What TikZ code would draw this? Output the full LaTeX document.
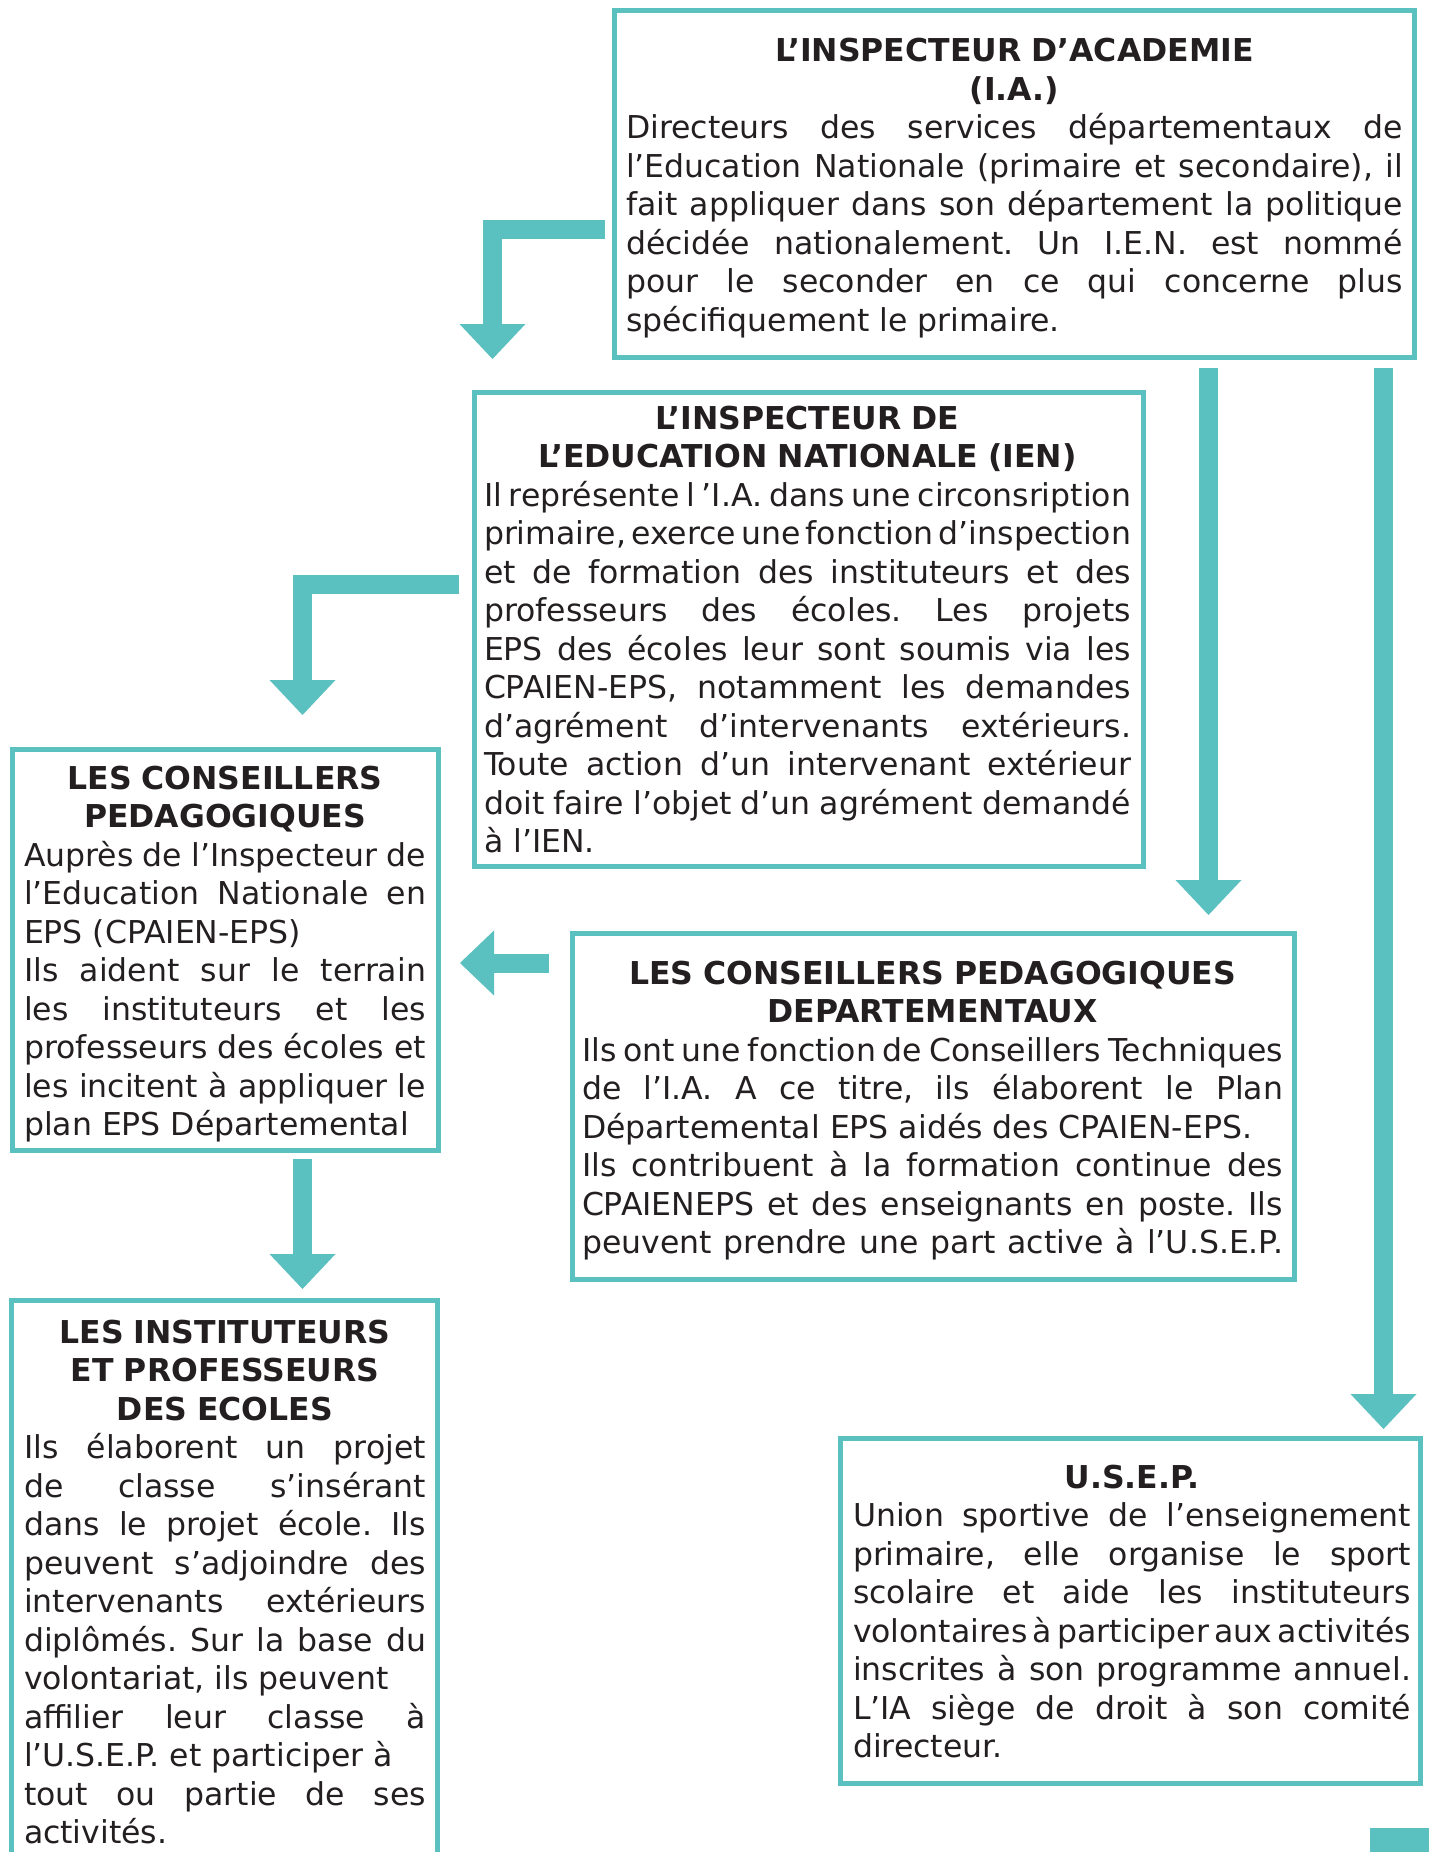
\documentclass[tikz,border=0pt]{standalone}
\usepackage{fontspec}
\setmainfont{DejaVu Sans}
\usetikzlibrary{calc}
\definecolor{tealc}{RGB}{91,193,192}
\definecolor{txtc}{HTML}{231F20}
\newcommand\JL[1]{\hbox to\hsize{\strut#1}}
\newcommand\LL[1]{\hbox to\hsize{\strut#1\hfil}}
\newcommand\CL[1]{\hbox to\hsize{\strut\hfil\bfseries#1\hfil}}
\newcommand\txtbox[2]{\vbox{\hsize=#1\fontsize{31.5}{38.5}\selectfont\frenchspacing\spaceskip=.318em plus 3em minus .25em\relax#2}}
\tikzset{
  box/.style={draw=tealc, line width=5pt, rectangle, inner sep=0pt, outer sep=0pt, anchor=north west},
  txt/.style={inner sep=0pt, outer sep=0pt, anchor=north west, text=txtc},
  bar/.style={draw=tealc, line width=19pt, line join=miter, line cap=butt},
  dhead/.pic={\fill[tealc] (0,0) -- (-33,-35) -- (33,-35) -- cycle;},
  lhead/.pic={\fill[tealc] (0,0) -- (34,-32.5) -- (34,32.5) -- cycle;}
}
\begin{document}
\begin{tikzpicture}[x=1pt,y=-1pt]
\useasboundingbox (0,0) rectangle (1429,1852);
\clip (0,0) rectangle (1429,1852);
\fill[white] (0,0) rectangle (1429,1852);
% boxes
\node[box, minimum width=799.5pt, minimum height=346pt] (ia) at (614.5,11) {};
\node[box, minimum width=669pt, minimum height=474pt] (ien) at (474,392) {};
\node[box, minimum width=426pt, minimum height=401pt] (cp) at (12,749) {};
\node[box, minimum width=722pt, minimum height=346pt] (cpd) at (572,933) {};
\node[box, minimum width=426pt, minimum height=600pt] (inst) at (11.5,1300) {};
\node[box, minimum width=580pt, minimum height=345pt] (usep) at (840,1438) {};
\node[fill=tealc, inner sep=0pt, minimum width=59pt, minimum height=24pt, anchor=north west] (corner) at (1370,1828) {};
% texts
\node[txt] (iat) at (626,34.55) {\txtbox{777pt}{%
\CL{L’INSPECTEUR D’ACADEMIE}
\CL{(I.A.)}
\JL{Directeurs des services départementaux de}
\JL{l’Education Nationale (primaire et secondaire), il}
\JL{fait appliquer dans son département la politique}
\JL{décidée nationalement. Un I.E.N. est nommé}
\JL{pour le seconder en ce qui concerne plus}
\LL{spécifiquement le primaire.}}};
\node[txt] (ient) at (484,402.05) {\txtbox{647pt}{%
\CL{L’INSPECTEUR DE}
\CL{L’EDUCATION NATIONALE (IEN)}
\JL{Il représente l ’I.A. dans une circonsription}
\JL{primaire, exerce une fonction d’inspection}
\JL{et de formation des instituteurs et des}
\JL{professeurs des écoles. Les projets}
\JL{EPS des écoles leur sont soumis via les}
\JL{CPAIEN-EPS, notamment les demandes}
\JL{d’agrément d’intervenants extérieurs.}
\JL{Toute action d’un intervenant extérieur}
\JL{doit faire l’objet d’un agrément demandé}
\LL{à l’IEN.}}};
\node[txt] (cpt) at (24,762.05) {\txtbox{402pt}{%
\CL{LES CONSEILLERS}
\CL{PEDAGOGIQUES}
\JL{Auprès de l’Inspecteur de}
\JL{l’Education Nationale en}
\LL{EPS (CPAIEN-EPS)}
\JL{Ils aident sur le terrain}
\JL{les instituteurs et les}
\JL{professeurs des écoles et}
\JL{les incitent à appliquer le}
\LL{plan EPS Départemental}}};
\node[txt] (cpdt) at (582,957.05) {\txtbox{701pt}{%
\CL{LES CONSEILLERS PEDAGOGIQUES}
\CL{DEPARTEMENTAUX}
\JL{Ils ont une fonction de Conseillers Techniques}
\JL{de l’I.A. A ce titre, ils élaborent le Plan}
\LL{Départemental EPS aidés des CPAIEN-EPS.}
\JL{Ils contribuent à la formation continue des}
\JL{CPAIENEPS et des enseignants en poste. Ils}
\JL{peuvent prendre une part active à l’U.S.E.P.}}};
\node[txt] (instt) at (24,1316.05) {\txtbox{402pt}{%
\CL{LES INSTITUTEURS}
\CL{ET PROFESSEURS}
\CL{DES ECOLES}
\JL{Ils élaborent un projet}
\JL{de classe s’insérant}
\JL{dans le projet école. Ils}
\JL{peuvent s’adjoindre des}
\JL{intervenants extérieurs}
\JL{diplômés. Sur la base du}
\LL{volontariat, ils peuvent}
\JL{affilier leur classe à}
\LL{l’U.S.E.P. et participer à}
\JL{tout ou partie de ses}
\LL{activités.}}};
\node[txt] (usept) at (853,1461.05) {\txtbox{558pt}{%
\CL{U.S.E.P.}
\JL{Union sportive de l’enseignement}
\JL{primaire, elle organise le sport}
\JL{scolaire et aide les instituteurs}
\JL{volontaires à participer aux activités}
\JL{inscrites à son programme annuel.}
\JL{L’IA siège de droit à son comité}
\LL{directeur.}}};
% arrows
\coordinate (a1s) at ($(ia.north west)+(-9.5,218)$);
\coordinate (a1t) at ($(ien.north west)+(18.5,-33)$);
\draw[bar] (a1s) -| ($(a1t)+(0,-34)$);
\pic at (a1t) {dhead};
\coordinate (a2s) at ($(ien.north west)+(-15,192)$);
\coordinate (a2t) at ($(cp.north west)+(290.5,-34)$);
\draw[bar] (a2s) -| ($(a2t)+(0,-34)$);
\pic at (a2t) {dhead};
\coordinate (a3s) at ($(cpd.north west)+(-23,30)$);
\coordinate (a3t) at ($(cp.north east)+(22,214)$);
\draw[bar] (a3s) -- ($(a3t)+(33,0)$);
\pic at (a3t) {lhead};
\coordinate (a4s) at ($(ia.south west)+(594,11)$);
\coordinate (a4t) at ($(cpd.north west)+(636.5,-18)$);
\draw[bar] (a4s) -- ($(a4t)+(0,-34)$);
\pic at (a4t) {dhead};
\coordinate (a5s) at ($(ia.south east)+(-30.5,11)$);
\coordinate (a5t) at ($(usep.north east)+(-36.5,-9)$);
\draw[bar] (a5s) -- ($(a5t)+(0,-34)$);
\pic at (a5t) {dhead};
\coordinate (a6s) at ($(cp.south west)+(290.5,9)$);
\coordinate (a6t) at ($(inst.north west)+(291,-11)$);
\draw[bar] (a6s) -- ($(a6t)+(0,-34)$);
\pic at (a6t) {dhead};
\end{tikzpicture}
\end{document}
